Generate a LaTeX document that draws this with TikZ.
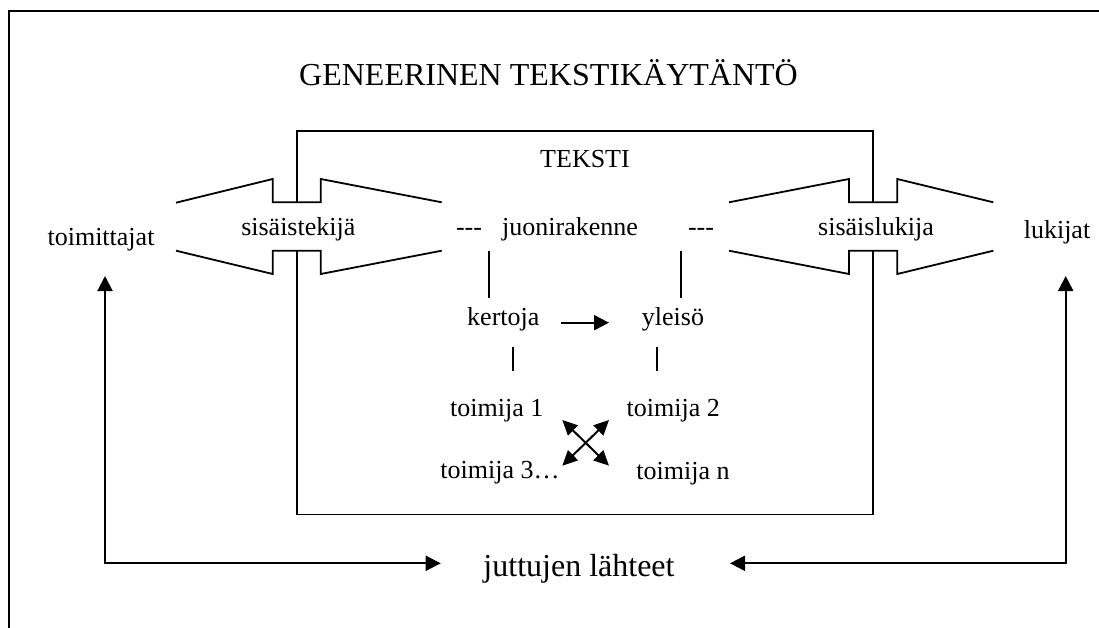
\documentclass[tikz,border=0pt]{standalone}
\usepackage{fontspec}
\setmainfont{Liberation Serif}
\usetikzlibrary{arrows.meta}
\begin{document}
\begin{tikzpicture}[x=1pt,y=-1pt,line width=1.8pt,
  lbl/.style={font=\fontsize{26}{30}\selectfont,inner sep=0pt,anchor=base},
  big/.style={font=\fontsize{32}{38}\selectfont,inner sep=0pt,anchor=base},
  tipb/.tip={Triangle[length=15pt,width=15pt]},
  tips/.tip={Triangle[length=15pt,width=14pt]},
  arr/.style={line width=2pt,-tipb},
  bothbig/.style={line width=2pt,tipb-tipb},
  bothsmall/.style={line width=2pt,tips-tips},
  stroke/.style={line width=1.8pt}]
\useasboundingbox (0,0) rectangle (1099,628);
% outer frame
\draw[stroke] (9,628) -- (9,10.7) -- (1099,10.7);
% title
\node[big] (title) at (548.5,86) {GENEERINEN TEKSTIKÄYTÄNTÖ};
% TEKSTI box
\draw[stroke] (296.7,202.3) -- (296.7,130.7) -- (873.3,130.7) -- (873.3,202.3);
\draw[stroke] (296.7,250.7) -- (296.7,514.5) -- (873.3,514.5) -- (873.3,250.7);
\node[lbl] (teksti) at (585,168) {TEKSTI};
% left double-arrow shape
\draw[stroke] (176,202.7) -- (272.7,179) -- (272.7,202.3) -- (320.7,202.3) -- (320.7,179) -- (441.7,202.3);
\draw[stroke] (176,250.7) -- (272.7,274) -- (272.7,250.7) -- (320.7,250.7) -- (320.7,274) -- (441.7,250.7);
% right double-arrow shape
\draw[stroke] (729,202.3) -- (849,179) -- (849,202.3) -- (897.3,202.3) -- (897.3,179) -- (993.3,202.3);
\draw[stroke] (729,250.7) -- (849,274) -- (849,250.7) -- (897.3,250.7) -- (897.3,274) -- (993.3,250.7);
% labels
\node[lbl] (toimittajat) at (101,245) {toimittajat};
\node[lbl] (sisaistekija) at (298.3,236) {sisäistekijä};
\node[lbl] (dashl) at (469,236) {-{}-{}-};
\node[lbl] (juoni) at (570,236) {juonirakenne};
\node[lbl] (dashr) at (701,236) {-{}-{}-};
\node[lbl] (sisaislukija) at (876,236) {sisäislukija};
\node[lbl] (lukijat) at (1057,239) {lukijat};
\node[lbl] (kertoja) at (503.3,325) {kertoja};
\node[lbl] (yleiso) at (673,325) {yleisö};
\node[lbl] (t1) at (496.7,416.7) {toimija 1};
\node[lbl] (t2) at (673.3,416.7) {toimija 2};
\node[lbl] (t3) at (500,478.5) {toimija 3…};
\node[lbl] (tn) at (683,479) {toimija n};
\node[big] (lahteet) at (579,576.7) {juttujen lähteet};
% short connecting lines
\coordinate (a1) at (489,251); \coordinate (a2) at (489,298);
\coordinate (b1) at (681,251); \coordinate (b2) at (681,298);
\coordinate (c1) at (513.3,346.7); \coordinate (c2) at (513.3,370.7);
\coordinate (d1) at (657,346.7); \coordinate (d2) at (657,370.7);
\draw[stroke] (a1) -- (a2);
\draw[stroke] (b1) -- (b2);
\draw[stroke] (c1) -- (c2);
\draw[stroke] (d1) -- (d2);
% kertoja -> yleisö
\coordinate (k1) at (560.7,322.7); \coordinate (k2) at (609,322.7);
\draw[arr] (k1) -- (k2);
% crossing arrows
\coordinate (x1) at (562.3,420); \coordinate (x2) at (609,465.7);
\coordinate (x3) at (609,420); \coordinate (x4) at (562.3,465.7);
\draw[bothsmall] (x1) -- (x2);
\draw[bothsmall] (x3) -- (x4);
% bottom arrows
\coordinate (lt) at (105,276); \coordinate (lc) at (105,563.3); \coordinate (lh) at (440.7,563.3);
\coordinate (rt) at (1065.7,276); \coordinate (rc) at (1065.7,563.3); \coordinate (rh) at (730,563.3);
\draw[bothbig] (lt) -- (lc) -- (lh);
\draw[bothbig] (rt) -- (rc) -- (rh);
\end{tikzpicture}
\end{document}
